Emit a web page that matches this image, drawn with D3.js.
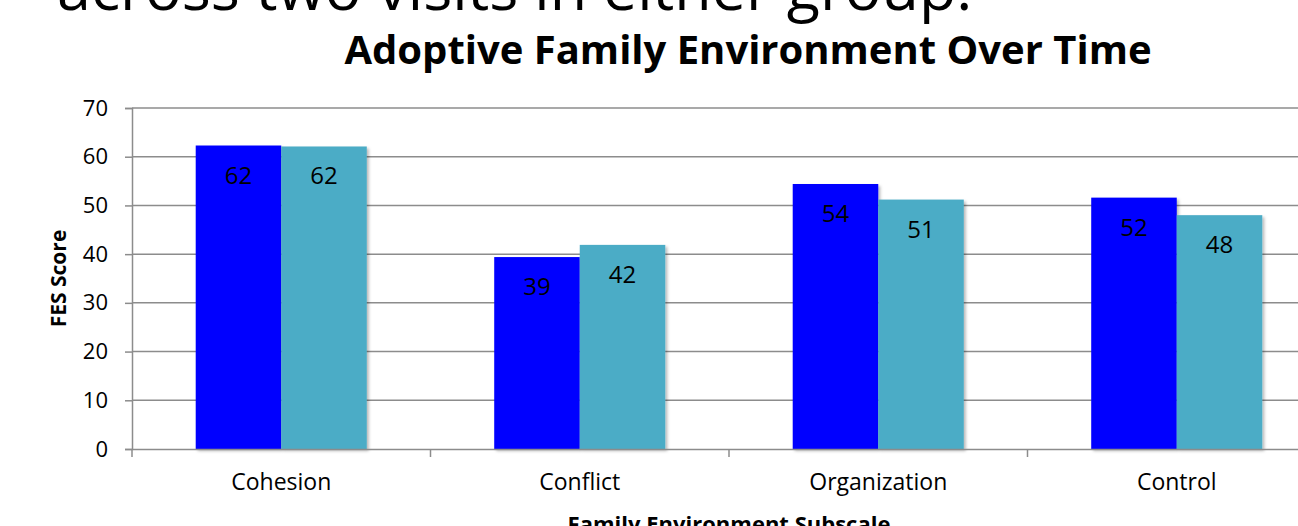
<!DOCTYPE html>
<html>
<head>
<meta charset="utf-8">
<script src="https://cdn.jsdelivr.net/npm/d3@7"></script>
<style>
  body { margin: 0; background: #ffffff; overflow: hidden; }
  svg { display: block; }
  text { font-family: "Open Sans", Lato, "DejaVu Sans", sans-serif; fill: #000; }
</style>
</head>
<body>
<svg id="chart" width="1298" height="526"></svg>
<script>
// FES subscale scores at the two visits
const categories = ["Cohesion", "Conflict", "Organization", "Control"];
const visit1 = [62.3, 39.4, 54.4, 51.6];
const visit2 = [62.1, 41.9, 51.2, 48.0];
const seriesNames = ["Visit 1", "Visit 2"];
const seriesColors = ["#0000FF", "#4BACC6"];
const yTicks = [0, 10, 20, 30, 40, 50, 60, 70];

const headline = "across two visits in either group.";
const chartTitle = "Adoptive Family Environment Over Time";
const yTitle = "FES Score";
const xTitle = "Family Environment Subscale";

const FONT = "'Open Sans', Lato, sans-serif";
const svg = d3.select("#chart");

// plot frame (the category band continues past the right edge of the page)
const plot = { left: 132, top: 108, bottom: 449, step: 298.5 };
plot.right = plot.left + plot.step * categories.length;

const x = d3.scaleBand().domain(categories).range([plot.left, plot.right]).padding(0);
const xs = d3.scaleBand().domain(seriesNames).range([0, x.bandwidth()])
  .paddingInner(0).paddingOuter(0.745);
const y = d3.scaleLinear().domain([0, 70]).range([plot.bottom, plot.top]);

const rows = categories.map((c, i) => ({ cat: c, values: [visit1[i], visit2[i]] }));

// soft shadow under the bars
const defs = svg.append("defs");
const f = defs.append("filter").attr("id", "barShadow")
  .attr("x", "-10%").attr("y", "-10%").attr("width", "130%").attr("height", "130%");
f.append("feDropShadow").attr("dx", 2).attr("dy", 2).attr("stdDeviation", 1.6)
  .attr("flood-color", "#000").attr("flood-opacity", 0.28);

// headline line from the slide above the chart
svg.append("text")
  .attr("x", 57).attr("y", 10)
  .attr("font-size", 61)
  .text(headline);

// chart title
svg.append("text")
  .attr("x", 748).attr("y", 64)
  .attr("text-anchor", "middle")
  .attr("font-size", 40).attr("font-weight", 700)
  .text(chartTitle);

// horizontal gridlines
svg.append("g").selectAll("line").data(yTicks.filter(t => t > 0)).join("line")
  .attr("x1", plot.left).attr("x2", plot.right)
  .attr("y1", d => y(d)).attr("y2", d => y(d))
  .attr("stroke", "#8c8c8c").attr("stroke-width", 1.5);

// y axis
const yAxis = svg.append("g")
  .attr("transform", `translate(${plot.left},0)`)
  .call(d3.axisLeft(y).tickValues(yTicks).tickSize(7).tickPadding(17));
yAxis.select(".domain").attr("stroke", "#8c8c8c").attr("stroke-width", 1.5);
yAxis.selectAll(".tick line").attr("stroke", "#8c8c8c").attr("stroke-width", 1.5);
yAxis.selectAll(".tick text")
  .attr("font-family", FONT)
  .attr("font-size", 22).attr("fill", "#000");

// bars
const groups = svg.append("g").selectAll("g").data(rows).join("g")
  .attr("transform", d => `translate(${x(d.cat)},0)`);

groups.selectAll("rect").data(d => d.values.map((v, i) => ({ v, s: seriesNames[i], i })))
  .join("rect")
  .attr("x", d => xs(d.s))
  .attr("y", d => y(d.v))
  .attr("width", xs.bandwidth())
  .attr("height", d => y(0) - y(d.v))
  .attr("fill", d => seriesColors[d.i])
  .attr("filter", "url(#barShadow)");

// value labels inside the top of each bar
groups.selectAll("text").data(d => d.values.map((v, i) => ({ v, s: seriesNames[i] })))
  .join("text")
  .attr("x", d => xs(d.s) + xs.bandwidth() / 2)
  .attr("y", d => y(d.v) + 38)
  .attr("text-anchor", "middle")
  .attr("font-size", 24)
  .text(d => d3.format(".0f")(d.v));

// x axis baseline, boundary ticks and category labels
const xAxis = svg.append("g")
  .attr("transform", `translate(0,${plot.bottom})`)
  .call(d3.axisBottom(x).tickSize(0).tickPadding(25));
xAxis.select(".domain").attr("stroke", "#8c8c8c").attr("stroke-width", 1.5);
xAxis.selectAll(".tick text")
  .attr("font-family", FONT)
  .attr("font-size", 23).attr("fill", "#000");
xAxis.selectAll("line.boundary")
  .data(d3.range(categories.length + 1))
  .join("line").attr("class", "boundary")
  .attr("x1", i => plot.left + i * x.step()).attr("x2", i => plot.left + i * x.step())
  .attr("y1", 0).attr("y2", 8)
  .attr("stroke", "#8c8c8c").attr("stroke-width", 1.5);

// axis titles
svg.append("text")
  .attr("transform", `translate(66,${(plot.top + plot.bottom) / 2}) rotate(-90)`)
  .attr("text-anchor", "middle")
  .attr("font-size", 21).attr("font-weight", 700)
  .text(yTitle);

svg.append("text")
  .attr("x", (plot.left + plot.right) / 2).attr("y", 532)
  .attr("text-anchor", "middle")
  .attr("font-size", 22).attr("font-weight", 700)
  .text(xTitle);
</script>
</body>
</html>
